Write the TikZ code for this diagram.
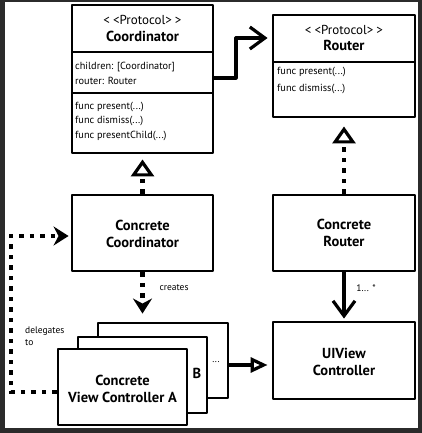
\documentclass[tikz,border=0pt]{standalone}
\usepackage{fontspec}
\setmainfont{PT Sans}
\usetikzlibrary{arrows.meta}
\definecolor{frame}{RGB}{43,43,43}
\begin{document}
\begin{tikzpicture}[x=1pt,y=-1pt,
  box/.style={draw, line width=2.9pt, fill=white, inner sep=0pt, line join=round},
  sep/.style={line width=2.5pt},
  conn/.style={line width=3.2pt, line join=round},
  dots/.style={line width=4.5pt, dash pattern=on 4.5pt off 6pt},
  big/.style={font=\fontsize{14.5}{17}\selectfont\bfseries, align=center, inner sep=0pt},
  proto/.style={font=\fontsize{13}{14}\selectfont, inner sep=0pt},
  small/.style={font=\fontsize{10.3}{11}\selectfont, inner sep=0pt, anchor=west},
  lbl/.style={font=\fontsize{9.5}{11.5}\selectfont, inner sep=0pt},
  realize/.style={-{Triangle[open, length=17pt, width=23pt, line width=3.2pt]}},
  barb/.style={-{Straight Barb[length=15pt, width=22pt, line width=3.2pt]}},
  stealthhead/.style={-{Stealth[length=15pt, width=19pt, inset=5pt]}}
]
% background
\fill[frame] (0,0) rectangle (422,433);
\fill[white] (5,2) rectangle (418,428);
\useasboundingbox (0,0) rectangle (422,433);

% Coordinator protocol
\node[box, minimum width=141pt, minimum height=148pt] (coord) at (142.5,79) {};
\draw[sep] (72,52) -- (213,52);
\draw[sep] (72,93) -- (213,93);
\node[proto] (cp) at (142.5,20) {<\kern3pt<Protocol>\kern3pt>};
\node[big] (ct) at (142.5,36) {Coordinator};
\node[small] (ca1) at (75,67) {children: [Coordinator]};
\node[small] (ca2) at (75,81) {router: Router};
\node[small] (cm1) at (75,107) {func present(...)};
\node[small] (cm2) at (75,121) {func dismiss(...)};
\node[small] (cm3) at (75,136) {func presentChild(...)};

% Router protocol
\node[box, minimum width=142pt, minimum height=102pt] (router) at (344,66) {};
\draw[sep] (273,62) -- (415,62);
\node[proto] (rp) at (344,30) {<\kern3pt<Protocol>\kern3pt>};
\node[big] (rt) at (344,45) {Router};
\node[small] (rm1) at (277,72) {func present(...)};
\node[small] (rm2) at (277,89) {func dismiss(...)};

% Concrete classes
\node[box, minimum width=141pt, minimum height=76pt] (ccoord) at (142.5,233) {};
\node[big] (cct) at (142.5,234) {Concrete\\Coordinator};
\node[box, minimum width=142pt, minimum height=76pt] (crouter) at (344,233) {};
\node[big] (crt) at (344,233) {Concrete\\Router};
\node[box, minimum width=142pt, minimum height=77pt] (uiv) at (344,360.5) {};
\node[big] (uivt) at (344,362) {UIView\\Controller};

% stacked view controllers
\node[box, minimum width=130pt, minimum height=75pt] (vcC) at (163,360.5) {};
\node[box, minimum width=129pt, minimum height=76pt] (vcB) at (142.5,375) {};
\node[box, minimum width=129pt, minimum height=76pt] (vcA) at (122.5,387) {};
\node[big] (vcAt) at (122.5,389) {Concrete\\View Controller A};
\node[big] (vcBt) at (197,373) {B};
\node[lbl] (vcCt) at (216,362) {...};

% connectors
\coordinate (bend) at (236,38);
\coordinate (cstart) at ([yshift=1pt]coord.east);
\draw[conn, barb, shorten >=4pt] (cstart) -| (bend) -- (router.west |- bend);

\draw[dots, realize, shorten >=5pt] (ccoord.north) -- (coord.south);
\draw[dots, realize, shorten >=8pt] (crouter.north) -- (router.south);

\draw[dots, stealthhead, shorten >=8pt] (ccoord.south) -- (ccoord.south |- vcC.north);
\node[lbl] (creates) at (174,288) {creates};

\draw[conn, barb, shorten >=2pt] (crouter.south) -- (uiv.north);
\node[lbl] (mult) at (366,288) {1... *};

\coordinate (m) at ([yshift=-4.5pt]vcC.east);
\draw[conn, -{Triangle[open, length=17pt, width=15pt, line width=3.2pt]}, shorten >=4pt] (m) -- (uiv.west |- m);

\coordinate (d1) at ([yshift=-5pt]vcA.west);
\coordinate (d2) at (11,236);
\draw[dots, stealthhead, shorten >=2pt] (d1) -| (d2) -- (d2 -| ccoord.west);
\node[lbl, anchor=north west, align=left] (deleg) at (25,327) {delegates\\to};
\end{tikzpicture}
\end{document}
